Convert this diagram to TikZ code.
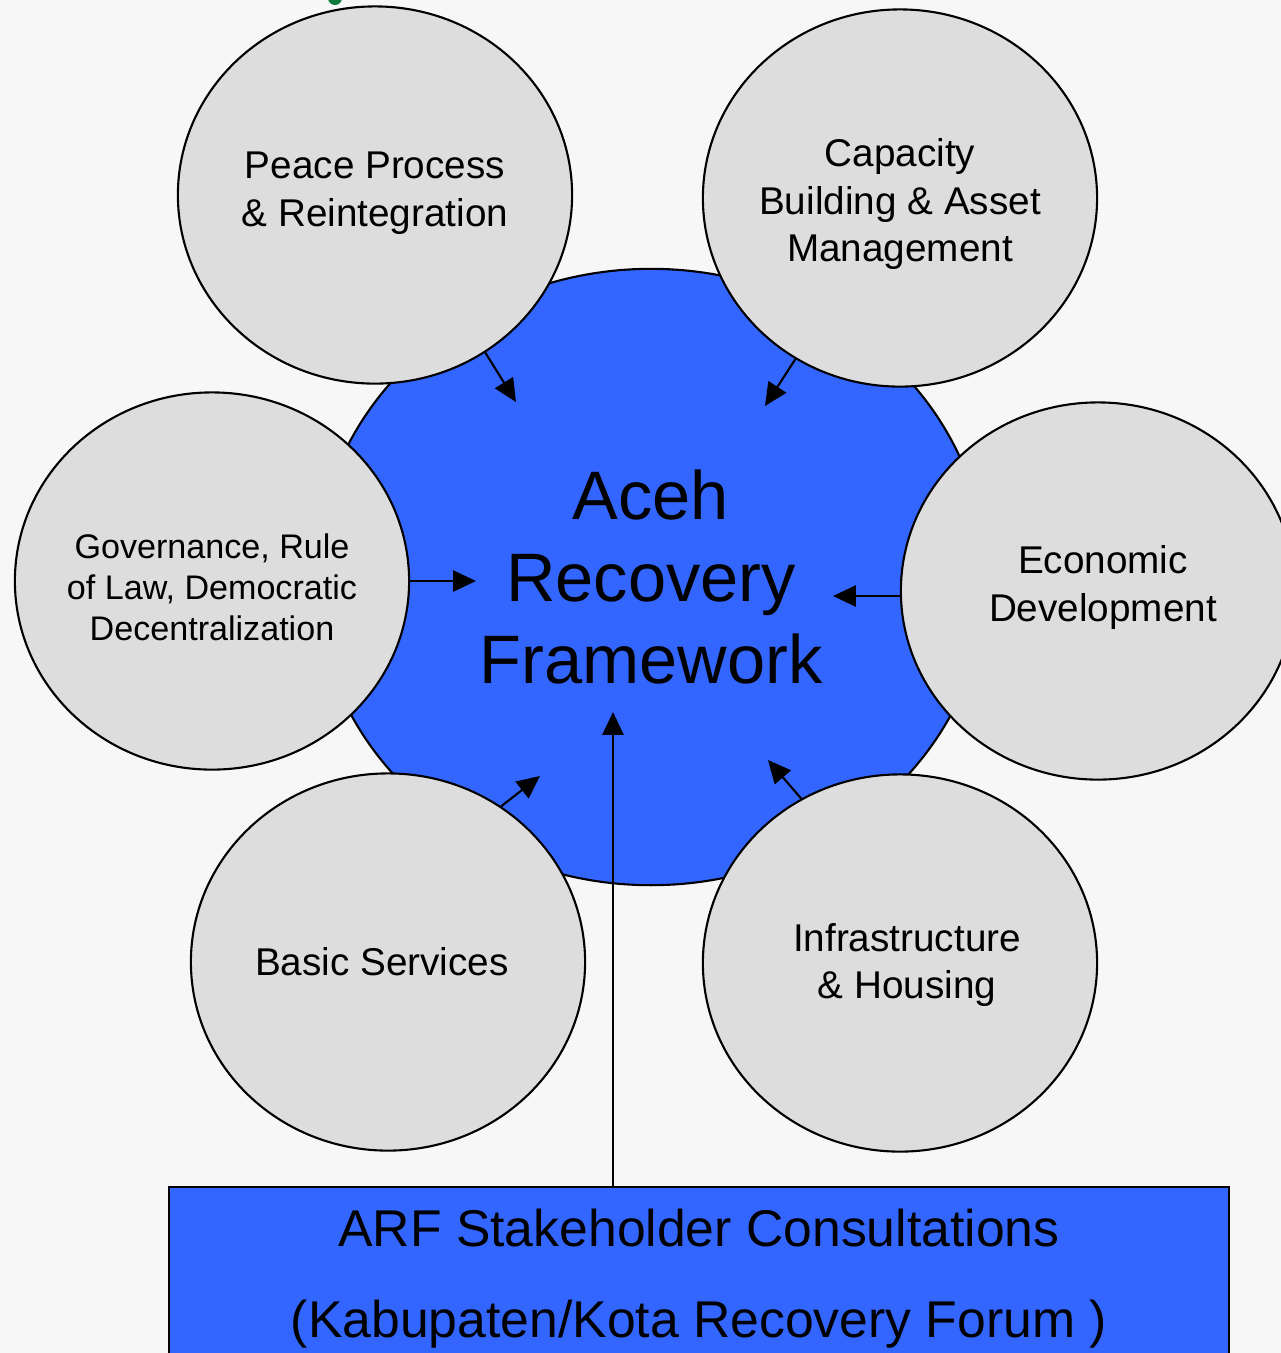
\documentclass[tikz,border=0pt]{standalone}
\usepackage{fontspec}
\setmainfont{Liberation Sans}
\usetikzlibrary{arrows.meta,shapes.geometric,calc}
\definecolor{arfblue}{HTML}{3366FF}
\definecolor{pillargray}{HTML}{DDDDDD}
\definecolor{pagegray}{HTML}{F7F7F7}
\definecolor{markgreen}{HTML}{0B7A3B}
\begin{document}
\begin{tikzpicture}[x=0.01cm, y=-0.01cm]
\tikzset{
  pillar/.style = {ellipse, draw, fill=pillargray, line width=0.6pt,
                   minimum width=3.94cm, minimum height=3.77cm, inner sep=0pt},
  pillartext/.style = {align=center, font=\fontsize{11}{13.6}\selectfont},
  feed/.style = {-{Triangle[length=6.5pt, width=6pt]}, line width=0.6pt}
}
\path [use as bounding box, fill=pagegray] (0,0) rectangle (1281,1353);
\fill[markgreen] (335,-2) circle (7);
% centre
\node[ellipse, draw, fill=arfblue, line width=0.6pt, minimum width=6.7cm, minimum height=6.16cm,
      inner sep=0pt, align=center, font=\fontsize{19.5}{23.3}\selectfont] (aceh) at (651,577)
      {Aceh\\Recovery\\Framework};
% pillars
\node[pillar, label={[pillartext, yshift=0.02cm]center:Peace Process\\\& Reintegration}] (peace) at (375,195) {};
\node[pillar, label={[pillartext, yshift=-0.06cm]center:Capacity\\Building \& Asset\\Management}] (capacity) at (900,198) {};
\node[pillar, label={[pillartext, yshift=-0.06cm, font=\fontsize{9.7}{11.7}\selectfont]center:Governance, Rule\\of Law, Democratic\\Decentralization}] (govern) at (212,581) {};
\node[pillar, label={[pillartext, xshift=0.05cm, yshift=0.035cm]center:Economic\\Development}] (econ) at (1098,591) {};
\node[pillar, label={[pillartext, xshift=-0.06cm]center:Basic Services}] (basic) at (388,962) {};
\node[pillar, label={[pillartext, xshift=0.07cm, yshift=-0.02cm]center:Infrastructure\\\& Housing}] (infra) at (900,963) {};
% consultations
\node[draw, fill=arfblue, line width=0.6pt, anchor=north, minimum width=10.6cm,
      inner ysep=0.22cm, align=center, font=\fontsize{14.7}{26}\selectfont] (forum) at (699,1186)
      {ARF Stakeholder Consultations\\(Kabupaten/Kota Recovery Forum )};
% arrow tips
\coordinate (peaceTip) at (516,402);
\coordinate (capacityTip) at (765,406);
\coordinate (governTip) at (476,581);
\coordinate (econTip) at (833,596);
\coordinate (basicTip) at (540,776);
\coordinate (infraTip) at (768,760);
\coordinate (forumTip) at (613,712);
\draw[feed] (peace.-55) -- (peaceTip);
\draw[feed] (capacity.-123) -- (capacityTip);
\draw[feed] (govern.east) -- (governTip);
\draw[feed] (econ.west |- econTip) -- (econTip);
\draw[feed] (basic.54) -- (basicTip);
\draw[feed] (infra.121) -- (infraTip);
\draw[feed] (forum.north -| forumTip) -- (forumTip);
\end{tikzpicture}
\end{document}
